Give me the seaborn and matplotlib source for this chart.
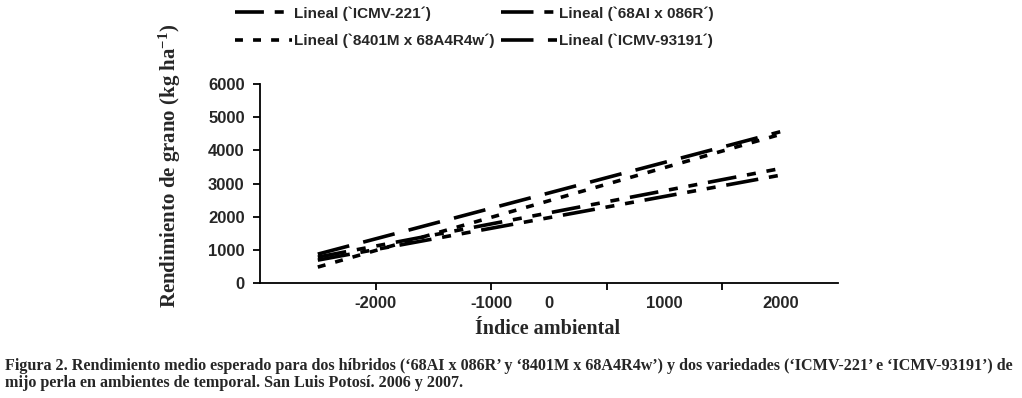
import matplotlib
matplotlib.use("Agg")
import matplotlib.pyplot as plt
import seaborn as sns
import pandas as pd

sns.set_theme(style="white")
plt.rcParams['font.family'] = ['Liberation Sans', 'DejaVu Sans']
plt.rcParams['mathtext.fontset'] = 'custom'
plt.rcParams['mathtext.rm'] = 'Liberation Serif'
plt.rcParams['mathtext.bf'] = 'Liberation Serif:bold'
plt.rcParams['mathtext.default'] = 'bf'

# ---- data ----
x_ends = [-2000, 2000]
series = ["Lineal (`ICMV-221´)", "Lineal (`8401M x 68A4R4w´)",
          "Lineal (`68AI x 086R´)", "Lineal (`ICMV-93191´)"]
icmv221 = [780, 3450]
h8401m = [480, 4480]
h68ai = [690, 3250]
icmv93191 = [870, 4560]
x_tick_pos = [-1500, -500, 0, 500, 1000, 1500, 2000]
x_tick_labels = ["-2000", "-1000", "0", "", "1000", "", "2000"]
x_tick_marked = [True, True, False, True, False, True, False]
y_ticks = [0, 1000, 2000, 3000, 4000, 5000, 6000]

rows = []
for name, vals in zip(series, [icmv221, h8401m, h68ai, icmv93191]):
    for xv, yv in zip(x_ends, vals):
        rows.append({"x": xv, "y": yv, "serie": name})
df = pd.DataFrame(rows)

dashes = {
    series[0]: (8, 3, 2.5, 3, 2.5, 3),
    series[1]: (2.2, 2.8),
    series[2]: (9, 3, 2.5, 3, 2.5, 3),
    series[3]: (9, 4),
}

fig = plt.figure(figsize=(10.22, 3.98), dpi=100)
ax = fig.add_axes([260/1022, 1-283/398, (838-260)/1022, (283-84)/398])

sns.lineplot(data=df, x="x", y="y", style="serie", style_order=series,
             dashes=dashes, color="black", linewidth=2.6, ax=ax, legend=True)

ax.set_xlim(-2500, 2500)
ax.set_ylim(0, 6000)
for s in ["top", "right"]:
    ax.spines[s].set_visible(False)
for s in ["left", "bottom"]:
    ax.spines[s].set_color("black")
    ax.spines[s].set_linewidth(1.3)

ax.set_yticks(y_ticks)
ax.set_yticklabels([str(v) for v in y_ticks], fontsize=12, fontweight="bold")
ax.tick_params(axis="y", left=True, length=5, width=1.3, color="black", pad=6)

ax.set_xticks(x_tick_pos)
ax.set_xticklabels(x_tick_labels, fontsize=12, fontweight="bold")
ax.tick_params(axis="x", bottom=True, length=5, width=1.3, color="black", pad=4)
for tk, marked in zip(ax.xaxis.get_major_ticks(), x_tick_marked):
    tk.tick1line.set_visible(marked)

ax.set_xlabel("Índice ambiental", family=["Liberation Serif"], fontsize=14.5,
              fontweight="bold")
ax.xaxis.set_label_coords(0.497, -0.18)
ax.set_ylabel(r"Rendimiento de grano (kg ha$^{-1}$)", family=["Liberation Serif"],
              fontsize=15, fontweight="bold")
ax.yaxis.set_label_coords(-(260-183)/(838-260), (283-166)/199)

sns.move_legend(ax, "upper left", bbox_to_anchor=(229/1022, 1.0), bbox_transform=fig.transFigure,
                ncol=2, frameon=False, title=None, fontsize=11, handlelength=3.7,
                columnspacing=0.4, handletextpad=0.15, labelspacing=0.85, borderaxespad=0.0)
leg = ax.get_legend()
for t in leg.get_texts():
    t.set_fontweight("bold")

fig.text(5/1022, 1-366/398, "Figura 2. Rendimiento medio esperado para dos híbridos (‘68AI x 086R’ y ‘8401M x 68A4R4w’) y dos variedades (‘ICMV-221’ e ‘ICMV-93191’) de",
         family=["Liberation Serif"], fontsize=11.6, fontweight="bold", va="center", ha="left")
fig.text(5/1022, 1-383/398, "mijo perla en ambientes de temporal. San Luis Potosí. 2006 y 2007.",
         family=["Liberation Serif"], fontsize=11.6, fontweight="bold", va="center", ha="left")

fig.savefig("out.png", dpi=100)
